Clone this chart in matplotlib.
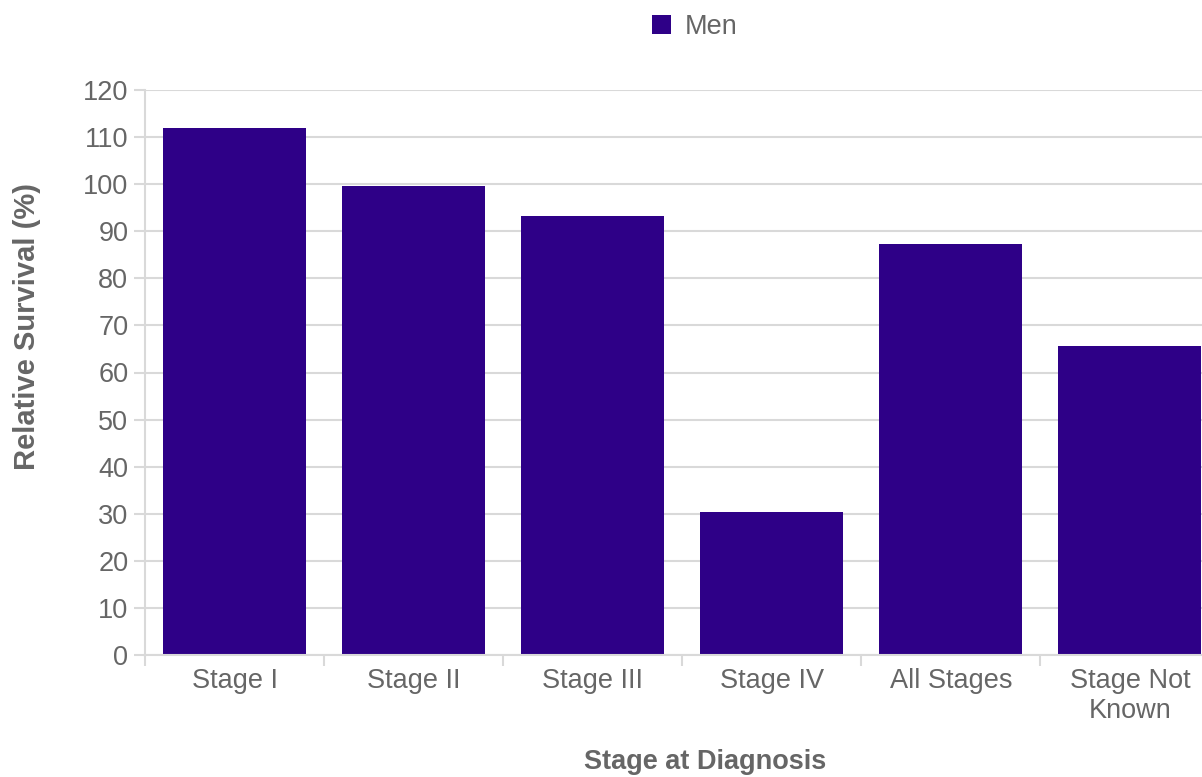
import numpy as np
import matplotlib
matplotlib.use("Agg")
import matplotlib.pyplot as plt

# data
stages = ["Stage I", "Stage II", "Stage III", "Stage IV", "All Stages", "Stage Not\nKnown"]
men = [112, 99.6, 93.2, 30.3, 87.2, 65.6]
y_ticks = list(range(0, 121, 10))

BAR = "#2e0087"
TEXT = "#666666"
GRID = "#d9d9d9"
W, H = 1202, 777

plt.rcParams["font.family"] = ["Liberation Sans", "DejaVu Sans"]

fig = plt.figure(figsize=(W / 100, H / 100), dpi=100)
# the plot area runs past the right edge of the picture, as in the reference
ax = fig.add_axes([145 / W, 1 - 655 / H, (1219.4 - 145) / W, (655 - 90) / H])

x = np.arange(len(stages))
ax.bar(x, men, width=0.8, color=BAR, label="Men", zorder=3)

ax.set_xlim(-0.5, len(stages) - 0.5)
ax.set_ylim(0, 120)
ax.set_yticks(y_ticks)
ax.set_xticks(x)
ax.set_xticklabels(stages, fontsize=19.5, color=TEXT, linespacing=1.2)
ax.set_xticks(np.arange(len(stages) + 1) - 0.5, minor=True)
ax.tick_params(axis="x", which="major", length=0, pad=9)
ax.tick_params(axis="x", which="minor", length=8, width=1.5, color=GRID)
ax.tick_params(axis="y", length=8, width=1.5, color=GRID, labelsize=19.5,
               labelcolor=TEXT, pad=4)

ax.yaxis.grid(True, color=GRID, linewidth=1.5, zorder=0)
for side in ("top", "right"):
    ax.spines[side].set_visible(False)
for side in ("left", "bottom"):
    ax.spines[side].set_color(GRID)
    ax.spines[side].set_linewidth(1.5)
ax.spines["bottom"].set_zorder(4)

fig.text(27 / W, 1 - 326 / H, "Relative Survival (%)", rotation=90, ha="center",
         va="center", fontsize=21, fontweight="bold", color=TEXT)
fig.text(705 / W, 1 - 762 / H, "Stage at Diagnosis", ha="center", va="center",
         fontsize=19.5, fontweight="bold", color=TEXT)

leg = fig.legend(loc="center", bbox_to_anchor=(695 / W, 1 - 27 / H), frameon=False,
                 fontsize=19.5, handlelength=0.7, handleheight=0.7, handletextpad=0.5)
for t in leg.get_texts():
    t.set_color(TEXT)

fig.savefig("out.png", dpi=100)
